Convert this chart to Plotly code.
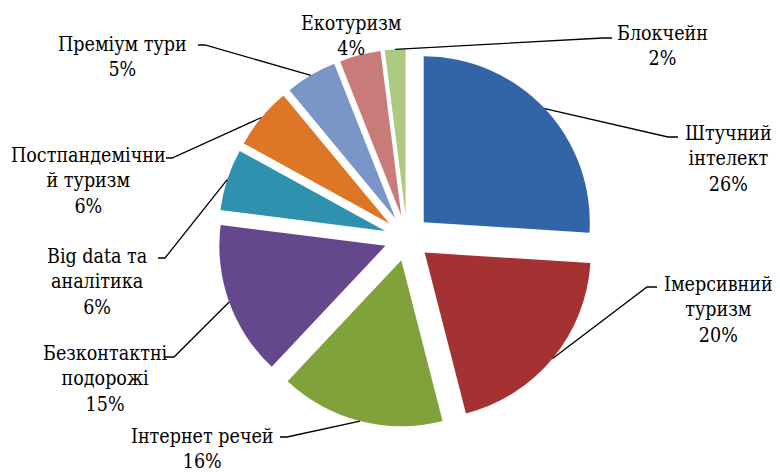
import math
import plotly.graph_objects as go

# ---- data ----
categories = ["Штучний інтелект", "Імерсивний туризм", "Інтернет речей",
              "Безконтактні подорожі", "Big data та аналітика",
              "Постпандемічний туризм", "Преміум тури", "Екотуризм", "Блокчейн"]
values = [26, 20, 16, 15, 6, 6, 5, 4, 2]
display_labels = ["Штучний<br>інтелект", "Імерсивний<br>туризм", "Інтернет речей",
                  "Безконтактні<br>подорожі", "Big data та<br>аналітика",
                  "Постпандемічни<br>й туризм", "Преміум тури", "Екотуризм", "Блокчейн"]
colors = ["#3165A8", "#A53232", "#80A23A", "#65478C", "#2E92AF",
          "#DE7628", "#7A96C8", "#C97B7A", "#ADCA82"]

# ---- layout / style ----
OFF = 8                      # page body margin
W, H = 780 - OFF, 472 - OFF  # figure size
PULL = 0.138
FONT = "'DejaVu Serif Condensed', 'DejaVu Serif', serif"
FONT_SIZE = 19.5

# pie centre / radius in screen px (reference coordinates)
CX, CY, HALF = 407, 238, 189

# label block centres (screen px) and leader-line tail points (screen px)
label_pos = [(728, 159), (718, 310), (202, 449), (105, 379), (97, 282),
             (88, 181), (122, 57), (351, 36), (662, 46)]
leader_tail = [[(668, 137), (678, 137)], [(647, 287), (657, 287)],
               [(287, 437), (280, 437)], [(174, 357), (165, 357)],
               [(165, 258), (158, 258)], [(172, 158), (166, 158)],
               [(205, 45), (198, 45)], None, [(603, 38), (612, 38)]]


def px2paper(x, y):
    return (x - OFF) / W, 1 - (y - OFF) / H


DOM_X = [px2paper(CX - HALF, 0)[0], px2paper(CX + HALF, 0)[0]]
DOM_Y = [px2paper(0, CY + HALF)[1], px2paper(0, CY - HALF)[1]]

fig = go.Figure(go.Pie(
    labels=categories, values=values, sort=False, direction="clockwise",
    rotation=0, pull=[PULL] * len(values), textinfo="none",
    marker=dict(colors=colors, line=dict(width=0)),
    domain=dict(x=DOM_X, y=DOM_Y), showlegend=False, hoverinfo="label+percent",
))

# pie geometry as plotly computes it (screen px)
bw = W * (DOM_X[1] - DOM_X[0])
bh = H * (DOM_Y[1] - DOM_Y[0])
r = min(bw, bh) / (2 * (1 + PULL))
cx = OFF + W * (DOM_X[0] + DOM_X[1]) / 2
cy = OFF + H * (1 - (DOM_Y[0] + DOM_Y[1]) / 2)

total = sum(values)
cum = 0
shapes = []
annotations = []
for i, v in enumerate(values):
    mid = (cum + v / 2) / total * 2 * math.pi
    cum += v
    dx, dy = math.sin(mid), -math.cos(mid)
    ax = cx + dx * (r * PULL + r)
    ay = cy + dy * (r * PULL + r)
    pct = round(v / total * 100)
    px, py = px2paper(*label_pos[i])
    annotations.append(dict(
        x=px, y=py, xref="paper", yref="paper", xanchor="center", yanchor="middle",
        text=f"{display_labels[i]}<br>{pct}%", showarrow=False, align="center",
        font=dict(family=FONT, size=FONT_SIZE, color="#000000"),
    ))
    if leader_tail[i]:
        pts = [(ax, ay)] + leader_tail[i]
        path = "M " + " L ".join(
            f"{px2paper(x, y)[0]:.5f},{px2paper(x, y)[1]:.5f}" for x, y in pts)
        shapes.append(dict(type="path", path=path, xref="paper", yref="paper",
                           line=dict(color="#000000", width=1.3)))

fig.update_layout(
    width=W, height=H, margin=dict(l=0, r=0, t=0, b=0),
    paper_bgcolor="white", plot_bgcolor="white",
    font=dict(family=FONT),
    shapes=shapes, annotations=annotations,
)
fig.write_html("out.html")
